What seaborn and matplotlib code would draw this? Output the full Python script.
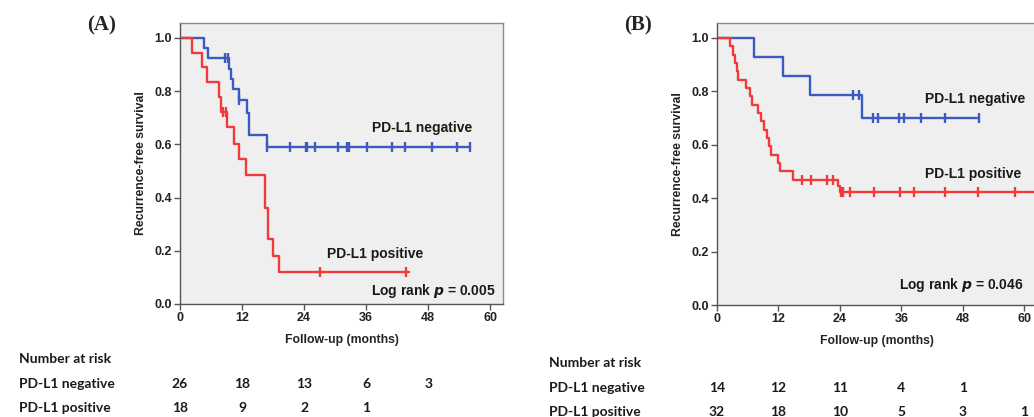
import numpy as np
import pandas as pd
import matplotlib.pyplot as plt
import matplotlib.transforms as mtransforms
import seaborn as sns

# ---- Panel A: step curves (months, survival) ----
a_neg_t = [0, 4.6, 5.5, 9.5, 9.9, 10.2, 11.5, 13.0, 13.4, 16.8]
a_neg_s = [1.0, 0.962, 0.923, 0.885, 0.846, 0.808, 0.766, 0.716, 0.635, 0.59]
a_neg_cens = [8.8, 9.3, 11.5, 16.9, 21.2, 24.3, 24.6, 26.2, 30.5, 32.3, 32.7,
              36.2, 41.0, 43.6, 48.7, 53.6, 56.2]
a_pos_t = [0, 2.4, 4.2, 5.2, 7.6, 8.0, 9.1, 10.4, 11.5, 12.7, 16.4, 17.0, 17.9, 19.2]
a_pos_s = [1.0, 0.944, 0.889, 0.833, 0.778, 0.722, 0.667, 0.6, 0.544, 0.485,
           0.36, 0.244, 0.18, 0.12]
a_pos_cens = [8.3, 8.9, 27.1, 43.7]

# ---- Panel B ----
b_neg_t = [0, 7.2, 12.9, 18.1, 28.4]
b_neg_s = [1.0, 0.929, 0.857, 0.786, 0.699]
b_neg_cens = [26.6, 27.7, 30.4, 31.5, 35.5, 36.5, 39.9, 44.6, 51.2]
b_pos_t = [0, 2.6, 3.1, 3.6, 3.9, 4.1, 5.6, 6.5, 6.9, 8.0, 8.5, 9.2, 9.7, 10.2,
           10.6, 12.0, 12.4, 14.9, 23.7, 24.1]
b_pos_s = [1.0, 0.969, 0.938, 0.906, 0.875, 0.844, 0.812, 0.781, 0.75, 0.719,
           0.688, 0.656, 0.625, 0.594, 0.562, 0.531, 0.5, 0.469, 0.446, 0.424]
b_pos_cens = [16.6, 18.3, 21.5, 22.6, 24.3, 24.7, 25.9, 30.7, 35.7, 38.5, 44.6,
              50.9, 58.2]
b_pos_end = 63.0

# ---- Number at risk ----
risk_times = [0, 12, 24, 36, 48, 60]
a_risk_neg = [26, 18, 13, 6, 3]
a_risk_pos = [18, 9, 2, 1]
b_risk_neg = [14, 12, 11, 4, 1]
b_risk_pos = [32, 18, 10, 5, 3, 1]

BLUE = '#3b5bc2'
RED = '#f23a3a'
BG = '#efefef'

sns.set_theme(style="ticks")
plt.rcParams['font.family'] = ['Liberation Sans', 'DejaVu Sans']

fig = plt.figure(figsize=(10.34, 4.17), dpi=100)
W, H = 1034, 417


def px_axes(left, right, top, bottom):
    return fig.add_axes([left / W, 1 - bottom / H, (right - left) / W, (bottom - top) / H])


def draw_curve(ax, t, s, cens, color, end=None):
    if end is None:
        end = max(cens) if cens else t[-1]
    xs = list(t) + [end]
    ys = list(s) + [s[-1]]
    df = pd.DataFrame({'x': xs, 'y': ys})
    sns.lineplot(data=df, x='x', y='y', ax=ax, color=color, lw=1.7,
                 drawstyle='steps-post', estimator=None, sort=False)
    cy = [s[np.searchsorted(t, c, side='right') - 1] for c in cens]
    sns.scatterplot(x=cens, y=cy, ax=ax, marker='|', s=50, linewidth=1.7,
                    color=color, zorder=4)


def style_axes(ax, xmax):
    ax.set_facecolor(BG)
    ax.set_xlim(0, xmax)
    ax.set_ylim(0, 1.056)
    ax.set_xticks(risk_times)
    ax.set_yticks([0, 0.2, 0.4, 0.6, 0.8, 1.0])
    ax.set_yticklabels(['0.0', '0.2', '0.4', '0.6', '0.8', '1.0'])
    for sp in ax.spines.values():
        sp.set_color('#8a8a8a')
        sp.set_linewidth(1.0)
    ax.spines['left'].set_color('#555555')
    ax.spines['bottom'].set_color('#555555')
    ax.tick_params(direction='out', length=4, width=1, color='#555555',
                   labelsize=9, pad=2)
    for lab in ax.get_xticklabels() + ax.get_yticklabels():
        lab.set_fontweight('bold')
        lab.set_color('#222222')
    ax.set_ylabel('Recurrence-free survival', fontsize=8.8, fontweight='bold',
                  color='#222222', labelpad=5)
    ax.set_xlabel('Follow-up (months)', fontsize=8.8, fontweight='bold',
                  color='#222222', labelpad=7)


def risk_table(ax, x_text, y_rows, neg, pos):
    tf = mtransforms.blended_transform_factory(ax.transData, fig.transFigure)
    kw = dict(fontsize=10, fontweight='bold', family=['Lato', 'DejaVu Sans'],
              color='#1a1a1a', va='center')
    fig.text(x_text / W, 1 - y_rows[0] / H, 'Number at risk', **kw)
    fig.text(x_text / W, 1 - y_rows[1] / H, 'PD-L1 negative', **kw)
    fig.text(x_text / W, 1 - y_rows[2] / H, 'PD-L1 positive', **kw)
    for t, v in zip(risk_times, neg):
        ax.text(t, 1 - y_rows[1] / H, str(v), transform=tf, ha='center',
                clip_on=False, **kw)
    for t, v in zip(risk_times, pos):
        ax.text(t, 1 - y_rows[2] / H, str(v), transform=tf, ha='center',
                clip_on=False, **kw)


# Panel A
axA = px_axes(180, 503, 23, 304)
draw_curve(axA, a_neg_t, a_neg_s, a_neg_cens, BLUE)
draw_curve(axA, a_pos_t, a_pos_s, a_pos_cens, RED, end=44.3)
style_axes(axA, 62.5)
lab = dict(fontsize=10, fontweight='bold', color='#1a1a1a')
axA.text(37.1, 0.66, 'PD-L1 negative', va='center', **lab)
axA.text(28.4, 0.188, 'PD-L1 positive', va='center', **lab)
axA.text(61.0, 0.049, 'Log rank $\\boldsymbol{p}$ = 0.005', ha='right', va='center', **lab)
fig.text(102 / W, 1 - 25 / H, '(A)', fontsize=15, fontweight='bold',
         family=['Liberation Serif', 'DejaVu Serif'], ha='center', va='center')
risk_table(axA, 19, [359, 384, 408], a_risk_neg, a_risk_pos)

# Panel B
axB = px_axes(717, 1037, 23, 305)
draw_curve(axB, b_neg_t, b_neg_s, b_neg_cens, BLUE)
draw_curve(axB, b_pos_t, b_pos_s, b_pos_cens, RED, end=b_pos_end)
style_axes(axB, 62.5)
axB.text(40.6, 0.77, 'PD-L1 negative', va='center', **lab)
axB.text(40.6, 0.49, 'PD-L1 positive', va='center', **lab)
axB.text(59.8, 0.075, 'Log rank $\\boldsymbol{p}$ = 0.046', ha='right', va='center', **lab)
fig.text(638 / W, 1 - 25 / H, '(B)', fontsize=15, fontweight='bold',
         family=['Liberation Serif', 'DejaVu Serif'], ha='center', va='center')
risk_table(axB, 549, [363, 388, 412], b_risk_neg, b_risk_pos)

fig.savefig('out.png', dpi=100)
plt.close(fig)
